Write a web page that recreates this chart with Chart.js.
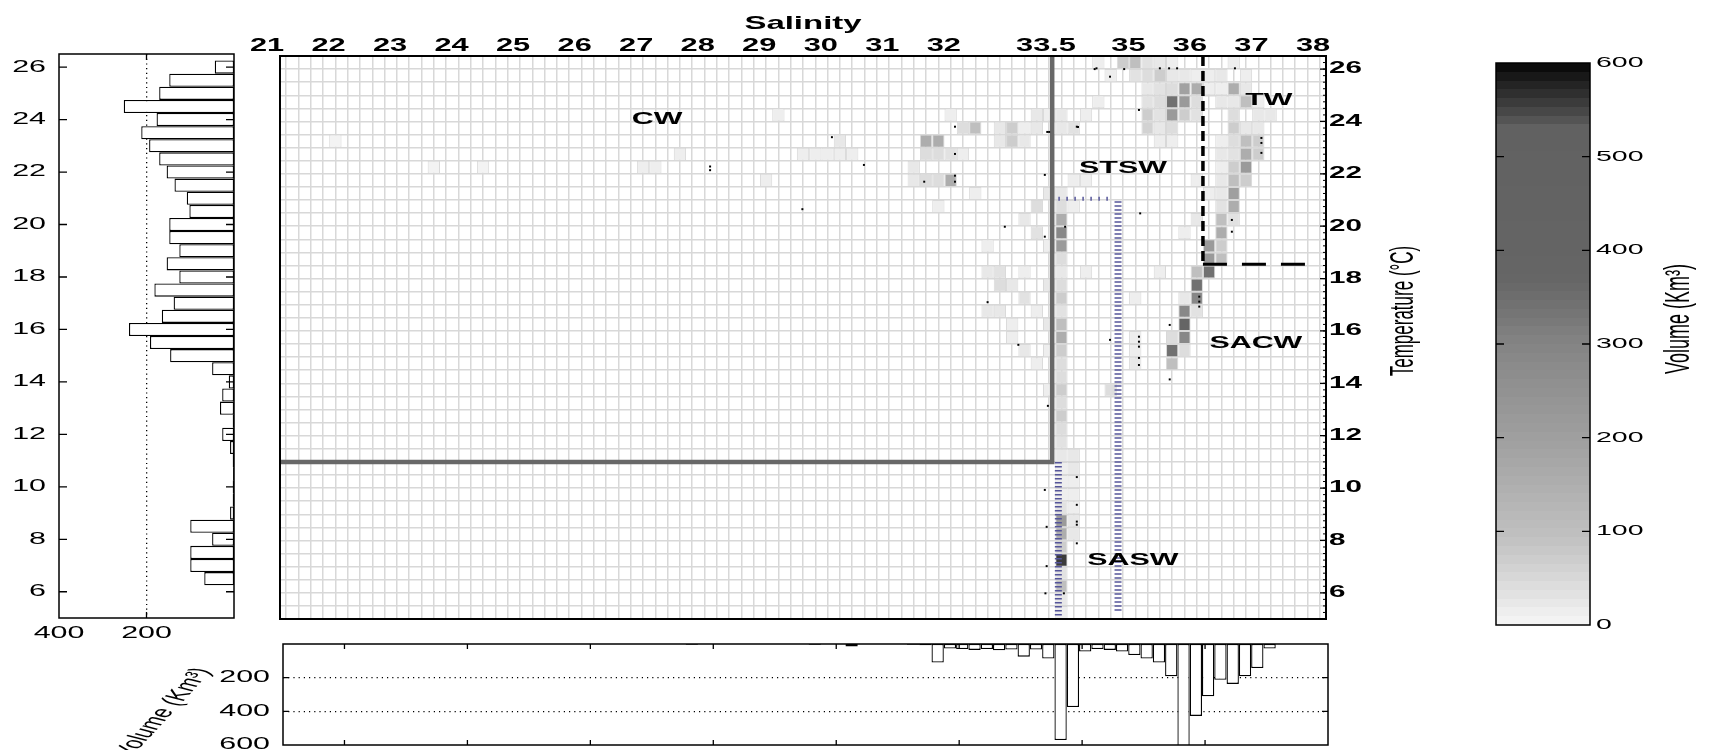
<!DOCTYPE html>
<html lang="en">
<head>
<meta charset="utf-8">
<title>T-S volume diagram</title>
<script src="https://cdn.jsdelivr.net/npm/chart.js@4.4.1/dist/chart.umd.min.js"></script>
<style>
  html, body { margin: 0; padding: 0; background: #fff; }
  #stage { position: relative; width: 1710px; height: 750px; overflow: hidden; }
  #stage canvas { position: absolute; left: 0; top: 0; }
</style>
</head>
<body>
<div id="stage">
  <canvas id="ts-chart" width="1710" height="750"></canvas>
  <canvas id="temp-hist" width="1710" height="750"></canvas>
  <canvas id="sal-hist" width="1710" height="750"></canvas>
  <canvas id="color-bar" width="1710" height="750"></canvas>
</div>
<script>
'use strict';

// ---- values ----

// top salinity axis: label text and where each label sits (salinity units)
const salinityTickLabels = ['21', '22', '23', '24', '25', '26', '27', '28', '29', '30', '31', '32', '33.5', '35', '36', '37', '38'];
const salinityTickPos = [21, 22, 23, 24, 25, 26, 27, 28, 29, 30, 31, 32, 33.66, 35, 36, 37, 38];
const temperatureTicks = [6, 8, 10, 12, 14, 16, 18, 20, 22, 24, 26];
const tempHistTicks = [400, 200];
const salHistSalTicks = [22, 24, 26, 28, 30, 32, 34, 36];
const salHistVolTicks = [200, 400, 600];
const colorbarTicks = [0, 100, 200, 300, 400, 500, 600];

// left panel: volume (km3) per 0.5 °C class
const tempHistTemp = [6.5, 7, 7.5, 8, 8.5, 9, 9.5, 10, 10.5, 11, 11.5, 12, 12.5, 13, 13.5, 14, 14.5, 15, 15.5, 16,
  16.5, 17, 17.5, 18, 18.5, 19, 19.5, 20, 20.5, 21, 21.5, 22, 22.5, 23, 23.5, 24, 24.5, 25, 25.5, 26];
const tempHistVolume = [68, 100, 100, 50, 100, 9, 3, 3, 2, 3, 9, 27, 3, 32, 27, 12, 50, 146, 192, 240,
  165, 138, 182, 125, 154, 125, 148, 148, 102, 108, 136, 154, 171, 194, 212, 177, 252, 171, 148, 44];

// bottom panel: volume (km3) per 0.2 salinity class
const salHistSal = [27.65, 29.65, 30.25, 31.25, 31.45, 31.65, 31.85, 32.05, 32.25, 32.45, 32.65, 32.85, 33.05, 33.25, 33.45,
  33.65, 33.85, 34.05, 34.25, 34.45, 34.65, 34.85, 35.05, 35.25, 35.45, 35.65, 35.85, 36.05, 36.25, 36.45, 36.65, 36.85, 37.05];
const salHistVolume = [5, 4, 15, 4, 8, 110, 27, 30, 35, 30, 37, 33, 75, 33, 86,
  570, 374, 45, 30, 35, 45, 66, 86, 110, 192, 640, 427, 310, 212, 237, 192, 143, 27];

// T-S cells: one row per temperature class (bin centre), salinity bin centres and volumes
const cellRowTemp = [26.25, 25.75, 25.25, 24.75, 24.25, 23.75, 23.25, 22.75, 22.25, 21.75, 21.25, 20.75, 20.25, 19.75,
  19.25, 18.75, 18.25, 17.75, 17.25, 16.75, 16.25, 15.75, 15.25, 14.75, 14.25, 13.75, 13.25, 12.75, 12.25, 11.75,
  11.25, 10.75, 10.25, 9.75, 9.25, 8.75, 8.25, 7.75, 7.25, 6.75, 6.25, 5.75, 5.25];
const cellRowSal = [
  [34.3, 34.7, 34.9, 35.1, 35.3, 35.5, 36.5],
  [34.5, 34.9, 35.1, 35.3, 35.5, 35.7, 35.9, 36.1, 36.3, 36.7],
  [35.1, 35.3, 35.5, 35.7, 35.9, 36.1, 36.3, 36.5, 36.7],
  [34.3, 35.1, 35.3, 35.5, 35.7, 35.9, 36.3, 36.5, 36.7, 36.9],
  [29.1, 31.9, 33.3, 33.5, 33.7, 34.1, 35.1, 35.3, 35.5, 35.7, 35.9, 36.5, 36.9, 37.1],
  [32.1, 32.3, 32.7, 32.9, 33.1, 33.3, 33.7, 33.9, 35.1, 35.3, 35.5, 36.5, 36.7, 36.9],
  [21.9, 30.1, 31.5, 31.7, 32.7, 32.9, 33.1, 35.3, 35.5, 36.3, 36.5, 36.7, 36.9],
  [27.5, 29.5, 29.7, 29.9, 30.1, 30.3, 31.5, 31.7, 31.9, 32.1, 36.3, 36.5, 36.7, 36.9],
  [23.5, 24.3, 26.9, 27.1, 31.3, 36.3, 36.5, 36.7],
  [28.9, 31.3, 31.5, 31.7, 31.9, 33.9, 34.1, 35.9, 36.3, 36.5, 36.7],
  [32.3, 33.5, 33.7, 36.1, 36.3, 36.5],
  [31.7, 33.3, 33.7, 33.9, 36.3, 36.5],
  [33.1, 33.7, 35.9, 36.3, 36.5],
  [33.3, 33.7, 35.7, 36.3],
  [32.5, 33.5, 33.7, 36.1, 36.3],
  [33.7, 36.1, 36.3],
  [32.5, 32.7, 33.1, 33.7, 34.1, 35.3, 35.9, 36.1],
  [32.7, 32.9, 33.5, 33.7, 35.9],
  [33.1, 33.7, 34.9, 35.7, 35.9],
  [32.5, 32.7, 33.3, 33.7, 35.7, 35.9],
  [32.9, 33.5, 33.7, 35.7],
  [32.9, 33.7, 34.9, 35.5, 35.7],
  [33.1, 33.5, 33.7, 34.9, 35.5, 35.7],
  [33.3, 33.7, 34.9, 35.5],
  [33.7],
  [33.5, 33.7, 34.5],
  [33.7], [33.7], [33.7], [33.7],
  [33.7, 33.9], [33.7, 33.9], [33.7, 33.9], [33.7, 33.9], [33.7, 33.9], [33.7, 33.9], [33.7, 33.9],
  [33.7], [33.7], [33.7], [33.7], [33.7], [33.7]
];
const cellRowVol = [
  [15, 70, 100, 35, 20, 15, 12],
  [15, 30, 40, 70, 20, 20, 15, 15, 20, 15],
  [20, 30, 40, 190, 155, 15, 15, 155, 20],
  [12, 30, 40, 340, 220, 40, 20, 25, 100, 15],
  [12, 12, 20, 15, 20, 15, 70, 30, 220, 70, 30, 40, 25, 25],
  [40, 100, 20, 70, 15, 20, 25, 30, 60, 20, 40, 70, 20, 20],
  [8, 20, 155, 155, 20, 70, 20, 15, 15, 15, 40, 100, 70],
  [10, 15, 15, 15, 15, 10, 40, 40, 30, 15, 20, 30, 155, 70],
  [8, 8, 12, 12, 20, 15, 70, 220],
  [10, 20, 40, 40, 155, 15, 12, 15, 20, 100, 70],
  [15, 20, 20, 15, 20, 200],
  [12, 40, 40, 15, 30, 155],
  [20, 155, 20, 100, 30],
  [30, 290, 15, 155],
  [12, 15, 220, 220, 70],
  [40, 220, 100],
  [20, 30, 15, 20, 15, 15, 100, 340],
  [40, 25, 25, 40, 340],
  [30, 70, 10, 20, 290],
  [20, 25, 15, 30, 290, 30],
  [15, 20, 100, 380],
  [15, 155, 15, 40, 290],
  [20, 15, 70, 15, 340, 40],
  [12, 40, 20, 100],
  [40],
  [15, 70, 40],
  [40], [70], [40], [30],
  [20, 20], [15, 20], [15, 15], [10, 15], [30, 15], [220, 20], [155, 20],
  [70], [560], [30], [100], [20], [10]
];

// small black station dots
const dotSal = [34.27, 34.49, 35.3, 35.45, 35.58, 36.52, 34.96, 33.97, 33.5, 33.43, 34.98, 32.78, 33.43, 36.47, 36.47,
  35.94, 35.94, 35.94, 36.95, 36.95, 36.95, 35.46, 34.96, 34.96, 34.96, 34.49, 33.0, 35.46, 34.96, 34.96, 33.48,
  33.95, 33.43, 33.95, 33.95, 33.95, 33.46, 33.95, 33.46, 33.44, 33.74, 31.97, 29.97, 31.97, 27.99, 27.99, 30.49,
  31.97, 31.97, 31.47, 29.49, 33.76, 33.95, 33.47, 32.5, 34.24, 34.72];
const dotTemp = [26.03, 25.71, 26.03, 26.03, 26.03, 26.03, 24.44, 23.79, 23.6, 21.96, 20.49, 19.98, 19.6, 20.24, 19.79,
  17.31, 17.12, 16.93, 23.37, 23.18, 22.8, 16.23, 15.78, 15.59, 15.4, 15.66, 15.47, 14.15, 14.97, 14.7, 13.14,
  10.42, 9.93, 9.36, 8.72, 8.6, 8.52, 7.89, 7.02, 5.98, 5.98, 23.8, 23.4, 22.76, 22.28, 22.14, 22.34,
  21.93, 21.7, 21.7, 20.65, 19.98, 23.8, 23.6, 17.1, 26.0, 26.0];

// water mass boundaries
const cwLineSal = [21, 33.55, 33.55];
const cwLineTemp = [11, 11, 26.5];
const twLineSal = [36, 36];
const twLineTemp = [26.5, 18.55];
const twFloorSal = [36, 37.7];
const twFloorTemp = [18.55, 18.55];
const stswTopSal = [33.65, 34.55];
const stswTopTemp = [21.05, 21.05];
const saswRightSal = [34.62, 34.62];
const saswRightTemp = [20.95, 5.3];
const saswLeftSal = [33.65, 33.65];
const saswLeftTemp = [11, 5.05];

// water mass names
const massNames = ['CW', 'STSW', 'TW', 'SACW', 'SASW'];
const massSal = [27.13, 34.7, 37.07, 36.86, 34.86];
const massTemp = [24.09, 22.21, 24.79, 15.5, 7.22];

// grey colour map of the colour bar
const colormapVolume = [0, 30, 60, 100, 150, 200, 250, 300, 340, 372, 530, 545, 565, 585, 600];
const colormapGray = [246, 228, 210, 190, 174, 159, 146, 132, 114, 101, 97, 75, 50, 25, 5];

// ---- helpers ----
const FONT = '"Liberation Sans", Arial, Helvetica, sans-serif';
const STRETCH = 1.9; // text in the figure is drawn wide
const SAL_BIN = 0.2;
const TEMP_BIN = 0.5;
const BANDS = 64;

Chart.defaults.font.family = FONT;

const pts = (xs, ys) => xs.map((x, i) => ({ x, y: ys[i] }));
const round = v => Math.round(v * 1000) / 1000;
const salGridEdges = Array.from({ length: 86 }, (_, i) => round(21 + i * SAL_BIN));
const tempGridEdges = Array.from({ length: 44 }, (_, i) => round(5 + i * TEMP_BIN));
const tempMinorTicks = Array.from({ length: 87 }, (_, i) => 5 + i * 0.25);

function grayLevel(v) {
    const step = 600 / BANDS;
    const q = Math.min(BANDS - 1, Math.max(0, Math.floor(v / step)));
    const vm = (q + 0.5) * step;
    for (let i = 1; i < colormapVolume.length; i++) {
        if (vm <= colormapVolume[i]) {
            const f = (vm - colormapVolume[i - 1]) / (colormapVolume[i] - colormapVolume[i - 1]);
            return Math.round(colormapGray[i - 1] + f * (colormapGray[i] - colormapGray[i - 1]));
        }
    }
    return colormapGray[colormapGray.length - 1];
}
const grayCss = v => { const g = grayLevel(v); return `rgb(${g},${g},${g})`; };

function drawText(ctx, text, x, y, font, opt = {}) {
    ctx.save();
    ctx.translate(x, y);
    ctx.scale(opt.sx || STRETCH, 1);
    if (opt.rotate) ctx.rotate(opt.rotate);
    ctx.font = font;
    ctx.fillStyle = '#000';
    ctx.textAlign = opt.align || 'center';
    ctx.textBaseline = 'middle';
    ctx.fillText(text, 0, 0);
    ctx.restore();
}

function drawFrame(ctx, a, width) {
    ctx.save();
    ctx.strokeStyle = '#000';
    ctx.lineWidth = width;
    ctx.strokeRect(a.left, a.top, a.right - a.left, a.bottom - a.top);
    ctx.restore();
}

function drawInwardTicks(ctx, a, scale, values, sides, len, width = 1.3) {
    ctx.save();
    ctx.strokeStyle = '#000';
    ctx.lineWidth = width;
    ctx.beginPath();
    values.forEach(v => {
        const p = scale.getPixelForValue(v);
        sides.forEach(side => {
            if (side === 'top') { ctx.moveTo(p, a.top); ctx.lineTo(p, a.top + len); }
            if (side === 'bottom') { ctx.moveTo(p, a.bottom); ctx.lineTo(p, a.bottom - len); }
            if (side === 'left') { ctx.moveTo(a.left, p); ctx.lineTo(a.left + len, p); }
            if (side === 'right') { ctx.moveTo(a.right, p); ctx.lineTo(a.right - len, p); }
        });
    });
    ctx.stroke();
    ctx.restore();
}

const baseOptions = padding => ({
    responsive: false,
    animation: false,
    devicePixelRatio: 1,
    events: [],
    layout: { padding },
    plugins: { legend: { display: false }, tooltip: { enabled: false } }
});

const lineSet = (xs, ys, color, width, dash) => ({
    type: 'line', data: pts(xs, ys), borderColor: color, borderWidth: width, borderDash: dash || [],
    borderCapStyle: 'butt', pointRadius: 0, fill: false, tension: 0, order: 2
});

// ---- main T-S diagram ----
const cellData = [];
cellRowTemp.forEach((t, r) => {
    cellRowSal[r].forEach((s, i) => {
        cellData.push({ x: s, y: [t - TEMP_BIN / 2, t + TEMP_BIN / 2], v: cellRowVol[r][i] });
    });
});

const tsDecor = {
    id: 'tsDecor',
    afterDraw(chart) {
        const { ctx, chartArea: a, scales: { x, y } } = chart;
        drawFrame(ctx, a, 2);
        drawInwardTicks(ctx, a, y, temperatureTicks, ['right'], 6);
        drawInwardTicks(ctx, a, y, tempMinorTicks, ['right'], 3, 1);
        drawText(ctx, 'Salinity', (a.left + a.right) / 2, 24, `bold 18.5px ${FONT}`, { sx: 1.78 });
        salinityTickPos.forEach((v, i) => {
            drawText(ctx, salinityTickLabels[i], x.getPixelForValue(v) - 13, 46, `bold 19px ${FONT}`, { sx: 1.62 });
        });
        temperatureTicks.forEach(v => {
            drawText(ctx, String(v), a.right + 3, y.getPixelForValue(v), `bold 16px ${FONT}`, { align: 'left', sx: 1.85 });
        });
        drawText(ctx, 'Temperature (°C)', a.right + 78, 311, `17px ${FONT}`, { rotate: -Math.PI / 2 });
        massNames.forEach((n, i) => {
            drawText(ctx, n, x.getPixelForValue(massSal[i]), y.getPixelForValue(massTemp[i]), `bold 16px ${FONT}`);
        });
    }
};

new Chart(document.getElementById('ts-chart'), {
    type: 'bar',
    data: {
        datasets: [
            {
                type: 'scatter', data: pts(dotSal, dotTemp), pointStyle: 'rect', pointRadius: 1.4,
                backgroundColor: '#000', borderWidth: 0, showLine: false, order: 1
            },
            lineSet(cwLineSal, cwLineTemp, '#686868', 4.5),
            lineSet(twLineSal, twLineTemp, '#000', 3.5, [10, 5]),
            lineSet(twFloorSal, twFloorTemp, '#000', 3, [24, 15]),
            lineSet(stswTopSal, stswTopTemp, '#55559a', 4, [1.5, 6.5]),
            lineSet(saswRightSal, saswRightTemp, '#55559a', 7, [1.5, 2.5]),
            lineSet(saswLeftSal, saswLeftTemp, '#55559a', 7, [1.5, 2.5]),
            {
                type: 'bar', data: cellData,
                backgroundColor: c => grayCss(c.raw ? c.raw.v : 0),
                borderColor: '#d8d8d8', borderWidth: 1, borderSkipped: false,
                barPercentage: 1, categoryPercentage: 1, grouped: false, inflateAmount: 0, order: 10
            }
        ]
    },
    options: {
        ...baseOptions({ left: 280, right: 384, top: 56, bottom: 131 }),
        scales: {
            x: { type: 'linear', position: 'top', min: 21, max: 38, offset: false, display: false },
            y: { type: 'linear', position: 'right', min: 5, max: 26.5, display: false },
            gx: {
                type: 'linear', position: 'bottom', min: 21, max: 38, offset: false,
                ticks: { display: false }, border: { display: false },
                grid: { color: '#d8d8d8', lineWidth: 1.5, drawTicks: false },
                afterBuildTicks: s => { s.ticks = salGridEdges.map(value => ({ value })); }
            },
            gy: {
                type: 'linear', position: 'left', min: 5, max: 26.5,
                ticks: { display: false }, border: { display: false },
                grid: { color: '#d8d8d8', lineWidth: 1.5, drawTicks: false },
                afterBuildTicks: s => { s.ticks = tempGridEdges.map(value => ({ value })); }
            }
        }
    },
    plugins: [tsDecor]
});

// ---- left panel: volume by temperature ----
const tempHistDecor = {
    id: 'tempHistDecor',
    afterDraw(chart) {
        const { ctx, chartArea: a, scales: { x, y } } = chart;
        drawFrame(ctx, a, 1.5);
        drawInwardTicks(ctx, a, y, temperatureTicks, ['left', 'right'], 8);
        drawInwardTicks(ctx, a, x, [200], ['top', 'bottom'], 6);
        temperatureTicks.forEach(v => {
            drawText(ctx, String(v), a.left - 13, y.getPixelForValue(v), `16px ${FONT}`, { align: 'right' });
        });
        tempHistTicks.forEach(v => {
            drawText(ctx, String(v), x.getPixelForValue(v), a.bottom + 16, `16px ${FONT}`);
        });
    }
};

new Chart(document.getElementById('temp-hist'), {
    type: 'bar',
    data: {
        datasets: [{
            data: pts(tempHistVolume, tempHistTemp),
            backgroundColor: '#fff', borderColor: '#000', borderWidth: 1.3, borderSkipped: false,
            barPercentage: 1, categoryPercentage: 1, inflateAmount: 0
        }]
    },
    options: {
        ...baseOptions({ left: 59, right: 1476, top: 54, bottom: 132 }),
        indexAxis: 'y',
        scales: {
            x: {
                type: 'linear', min: 0, max: 400, reverse: true,
                ticks: { display: false }, border: { display: false, dash: [1.2, 3.5] },
                grid: { color: '#000', lineWidth: 1.3, drawTicks: false },
                afterBuildTicks: s => { s.ticks = [{ value: 200 }]; }
            },
            y: { type: 'linear', min: 5, max: 26.5, offset: false, display: false }
        }
    },
    plugins: [tempHistDecor]
});

// ---- bottom panel: volume by salinity ----
const salHistDecor = {
    id: 'salHistDecor',
    afterDraw(chart) {
        const { ctx, chartArea: a, scales: { x, y } } = chart;
        drawFrame(ctx, a, 1.5);
        drawInwardTicks(ctx, a, x, salHistSalTicks, ['top', 'bottom'], 5);
        drawInwardTicks(ctx, a, y, [200, 400], ['left', 'right'], 6);
        salHistVolTicks.forEach(v => {
            drawText(ctx, String(v), a.left - 13, y.getPixelForValue(v), `16px ${FONT}`, { align: 'right' });
        });
        drawText(ctx, 'Volume (Km³)', 163, 713, `16px ${FONT}`, { rotate: -64 * Math.PI / 180 });
    }
};

new Chart(document.getElementById('sal-hist'), {
    type: 'bar',
    data: {
        datasets: [{
            data: pts(salHistSal, salHistVolume),
            backgroundColor: '#fff', borderColor: '#000', borderWidth: 1.3, borderSkipped: false,
            barPercentage: 1, categoryPercentage: 1, inflateAmount: 0
        }]
    },
    options: {
        ...baseOptions({ left: 283, right: 382, top: 644, bottom: 5 }),
        scales: {
            x: { type: 'linear', min: 21, max: 38, offset: false, display: false },
            y: {
                type: 'linear', min: 0, max: 600, reverse: true,
                ticks: { display: false }, border: { display: false, dash: [1.2, 4] },
                grid: { color: '#000', lineWidth: 1.2, drawTicks: false },
                afterBuildTicks: s => { s.ticks = [{ value: 200 }, { value: 400 }]; }
            }
        }
    },
    plugins: [salHistDecor]
});

// ---- colour bar ----
const colorBarDecor = {
    id: 'colorBarDecor',
    afterDraw(chart) {
        const { ctx, chartArea: a, scales: { y } } = chart;
        drawFrame(ctx, a, 1.5);
        drawInwardTicks(ctx, a, y, colorbarTicks.slice(1, -1), ['left', 'right'], 8);
        colorbarTicks.forEach(v => {
            drawText(ctx, String(v), a.right + 6, y.getPixelForValue(v), `15px ${FONT}`, { align: 'left' });
        });
        drawText(ctx, 'Volume (Km³)', 1680, 319, `18px ${FONT}`, { rotate: -Math.PI / 2 });
    }
};

new Chart(document.getElementById('color-bar'), {
    type: 'bar',
    data: {
        labels: [''],
        datasets: [{
            data: [600],
            backgroundColor: c => {
                const ch = c.chart;
                if (!ch.chartArea) return '#999';
                const ys = ch.scales.y;
                const g = ch.ctx.createLinearGradient(0, ys.getPixelForValue(0), 0, ys.getPixelForValue(600));
                for (let i = 0; i < BANDS; i++) {
                    const col = grayCss((i + 0.5) * 600 / BANDS);
                    g.addColorStop(i / BANDS, col);
                    g.addColorStop((i + 1) / BANDS - 1e-6, col);
                }
                return g;
            },
            borderWidth: 0, barPercentage: 1, categoryPercentage: 1, inflateAmount: 0
        }]
    },
    options: {
        ...baseOptions({ left: 1496, right: 120, top: 63, bottom: 125 }),
        scales: {
            x: { type: 'category', display: false },
            y: { type: 'linear', min: 0, max: 600, display: false }
        }
    },
    plugins: [colorBarDecor]
});
</script>
</body>
</html>
